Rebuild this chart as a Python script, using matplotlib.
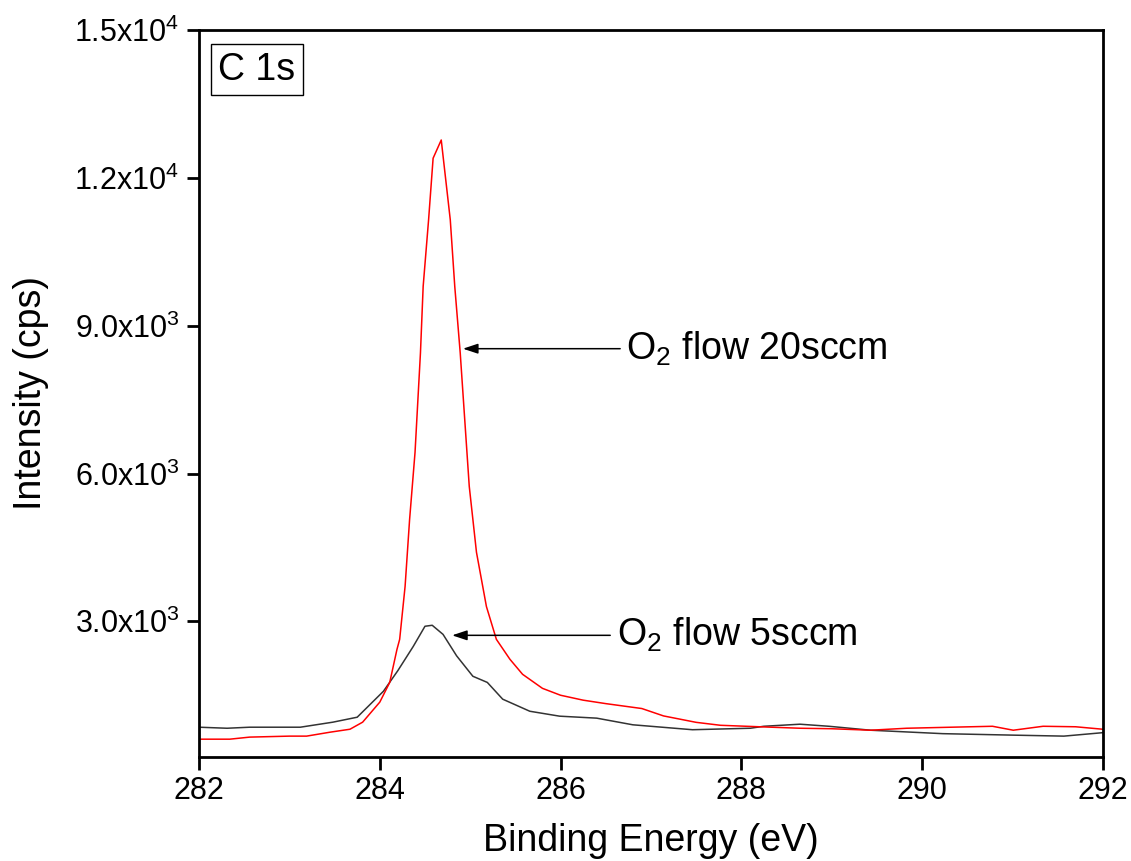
import matplotlib
matplotlib.use('Agg')
import matplotlib.pyplot as plt
import numpy as np

plt.rcParams['font.family'] = ['Liberation Sans', 'DejaVu Sans']
plt.rcParams['mathtext.fontset'] = 'custom'
plt.rcParams['mathtext.rm'] = 'Liberation Sans'

# binding energy (eV) and intensity (cps)
be_20 = [282.00, 282.34, 282.56, 283.00, 283.19, 283.45, 283.67, 283.81, 284.00,
         284.11, 284.19, 284.22, 284.28, 284.33, 284.39, 284.45, 284.48, 284.54,
         284.59, 284.68, 284.78, 284.83, 284.89, 284.94, 284.99, 285.07, 285.18,
         285.29, 285.44, 285.58, 285.80, 286.00, 286.25, 286.50, 286.90, 287.14,
         287.50, 287.77, 288.20, 288.65, 289.00, 289.43, 289.83, 290.30, 290.78,
         291.01, 291.34, 291.70, 292.00]
int_20 = [608, 608, 650, 670, 670, 750, 810, 953, 1360,
          1760, 2430, 2635, 3710, 5070, 6430, 8450, 9800, 11150,
          12400, 12770, 11150, 9790, 8450, 7095, 5740, 4400, 3300,
          2635, 2230, 1925, 1640, 1500, 1400, 1330, 1230, 1080,
          950, 890, 860, 830, 820, 790, 830, 850, 870,
          790, 870, 860, 810]

be_5 = [282.00, 282.31, 282.56, 283.12, 283.48, 283.75, 284.04, 284.20, 284.37,
        284.50, 284.58, 284.70, 284.85, 285.03, 285.19, 285.36, 285.66, 285.99,
        286.40, 286.80, 287.46, 288.10, 288.25, 288.65, 288.97, 289.43, 290.23,
        291.01, 291.57, 292.00]
int_5 = [851, 830, 851, 851, 953, 1054, 1580, 2000, 2490,
         2900, 2920, 2735, 2300, 1885, 1760, 1420, 1175, 1075,
         1035, 900, 800, 830, 870, 912, 870, 790, 720,
         690, 670, 740]

yticks = [3000, 6000, 9000, 12000, 15000]
ytick_labels = [r'3.0x10$^3$', r'6.0x10$^3$', r'9.0x10$^3$', r'1.2x10$^4$', r'1.5x10$^4$']
xticks = [282, 284, 286, 288, 290, 292]

fig = plt.figure(figsize=(11.31, 8.61), dpi=100)
ax = fig.add_axes([0.176, 0.121, 0.799, 0.844])

ax.plot(be_5, int_5, color='#333333', lw=1.1)
ax.plot(be_20, int_20, color='#ff0000', lw=1.1)

ax.set_xlim(282, 292)
ax.set_ylim(250, 15000)
ax.set_xticks(xticks)
ax.set_yticks(yticks)
ax.set_yticklabels(ytick_labels)

for s in ax.spines.values():
    s.set_linewidth(2)
ax.tick_params(direction='out', length=9, width=2, labelsize=22, pad=5)

ax.set_xlabel('Binding Energy (eV)', fontsize=27, labelpad=12)
ax.set_ylabel('Intensity (cps)', fontsize=27, labelpad=18)

ax.text(0.021, 0.97, 'C 1s', transform=ax.transAxes, fontsize=27,
        va='top', ha='left',
        bbox=dict(boxstyle='square,pad=0.2', fc='white', ec='black', lw=1))

arrow = dict(arrowstyle='-|>,head_length=0.9,head_width=0.3', color='black', lw=1.1,
             shrinkA=0, shrinkB=0)
ax.annotate('', xy=(284.92, 8534), xytext=(286.66, 8534), arrowprops=arrow)
ax.text(286.72, 8534, r'O$_2$ flow 20sccm', fontsize=27, va='center', ha='left')
ax.annotate('', xy=(284.80, 2716), xytext=(286.55, 2716), arrowprops=arrow)
ax.text(286.62, 2716, r'O$_2$ flow 5sccm', fontsize=27, va='center', ha='left')

fig.savefig('out.png', dpi=100)
